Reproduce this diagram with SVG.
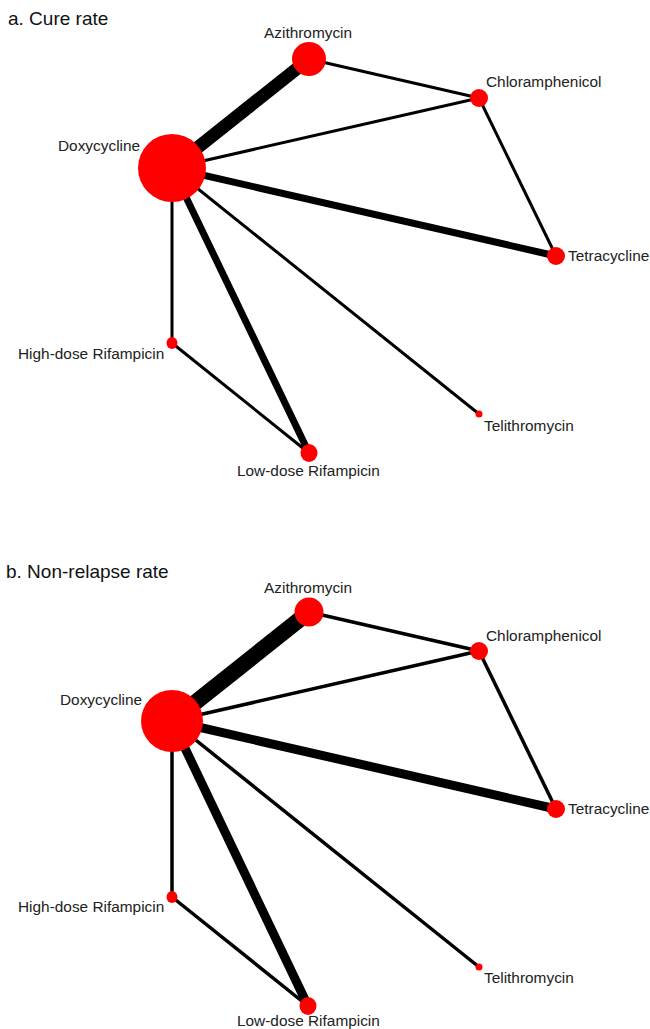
<svg xmlns="http://www.w3.org/2000/svg" width="650" height="1029" viewBox="0 0 650 1029">
<style>
.bg{fill:#ffffff}
.e{stroke:#000;fill:none;stroke-linecap:butt}
.n{fill:#ff0000}
.t{font-family:"Liberation Sans",Arial,sans-serif;font-size:15.4px;fill:#222}
.title{font-family:"Liberation Sans",Arial,sans-serif;font-size:19px;fill:#111}
</style>
<rect class="bg" x="0" y="0" width="650" height="1029"/>
<text class="title" x="8" y="25">a. Cure rate</text>
<g id="connectors-a">
<line class="e" x1="172" y1="168" x2="309" y2="59" stroke-width="13"/>
<line class="e" x1="172" y1="168" x2="479" y2="98" stroke-width="3"/>
<line class="e" x1="172" y1="168" x2="556" y2="256" stroke-width="7"/>
<line class="e" x1="172" y1="168" x2="172" y2="343" stroke-width="3"/>
<line class="e" x1="172" y1="168" x2="309" y2="453" stroke-width="7"/>
<line class="e" x1="172" y1="168" x2="479" y2="414" stroke-width="3"/>
<line class="e" x1="309" y1="59" x2="479" y2="98" stroke-width="3"/>
<line class="e" x1="479" y1="98" x2="556" y2="256" stroke-width="3"/>
<line class="e" x1="172" y1="343" x2="309" y2="453" stroke-width="3"/>
</g>
<g id="a-doxycycline"><circle class="n" cx="172" cy="168" r="34"/><text class="t" x="58" y="151">Doxycycline</text></g>
<g id="a-azithromycin"><circle class="n" cx="309" cy="59" r="17"/><text class="t" x="264" y="38">Azithromycin</text></g>
<g id="a-chloramphenicol"><circle class="n" cx="479" cy="98" r="9"/><text class="t" x="486" y="87">Chloramphenicol</text></g>
<g id="a-tetracycline"><circle class="n" cx="556" cy="256" r="9"/><text class="t" x="568" y="261">Tetracycline</text></g>
<g id="a-high-rif"><ellipse class="n" cx="172" cy="343" rx="5.5" ry="6"/><text class="t" x="18" y="359">High-dose Rifampicin</text></g>
<g id="a-low-rif"><ellipse class="n" cx="309" cy="453" rx="8.5" ry="9"/><text class="t" x="237" y="476">Low-dose Rifampicin</text></g>
<g id="a-telithromycin"><circle class="n" cx="479" cy="414" r="3.5"/><text class="t" x="484" y="431">Telithromycin</text></g>

<text class="title" x="6" y="578">b. Non-relapse rate</text>
<g id="connectors-b">
<line class="e" x1="172" y1="721" x2="309" y2="612" stroke-width="16"/>
<line class="e" x1="172" y1="721" x2="479" y2="651" stroke-width="3.5"/>
<line class="e" x1="172" y1="721" x2="556" y2="809" stroke-width="9"/>
<line class="e" x1="172" y1="721" x2="172" y2="897" stroke-width="3.5"/>
<line class="e" x1="172" y1="721" x2="308" y2="1006" stroke-width="9"/>
<line class="e" x1="172" y1="721" x2="479" y2="967" stroke-width="3.5"/>
<line class="e" x1="309" y1="612" x2="479" y2="651" stroke-width="3.5"/>
<line class="e" x1="479" y1="651" x2="556" y2="809" stroke-width="3.5"/>
<line class="e" x1="172" y1="897" x2="308" y2="1006" stroke-width="3.5"/>
</g>
<g id="b-doxycycline"><circle class="n" cx="172" cy="721" r="31"/><text class="t" x="60" y="705">Doxycycline</text></g>
<g id="b-azithromycin"><circle class="n" cx="309" cy="612" r="14.5"/><text class="t" x="264" y="593">Azithromycin</text></g>
<g id="b-chloramphenicol"><circle class="n" cx="479" cy="651" r="9"/><text class="t" x="486" y="641">Chloramphenicol</text></g>
<g id="b-tetracycline"><circle class="n" cx="556" cy="809" r="9"/><text class="t" x="568" y="814">Tetracycline</text></g>
<g id="b-high-rif"><ellipse class="n" cx="172" cy="897" rx="5.5" ry="6"/><text class="t" x="18" y="912">High-dose Rifampicin</text></g>
<g id="b-low-rif"><ellipse class="n" cx="308" cy="1006" rx="8.5" ry="9"/><text class="t" x="237" y="1026">Low-dose Rifampicin</text></g>
<g id="b-telithromycin"><circle class="n" cx="479" cy="967" r="3.5"/><text class="t" x="484" y="983">Telithromycin</text></g>
</svg>
